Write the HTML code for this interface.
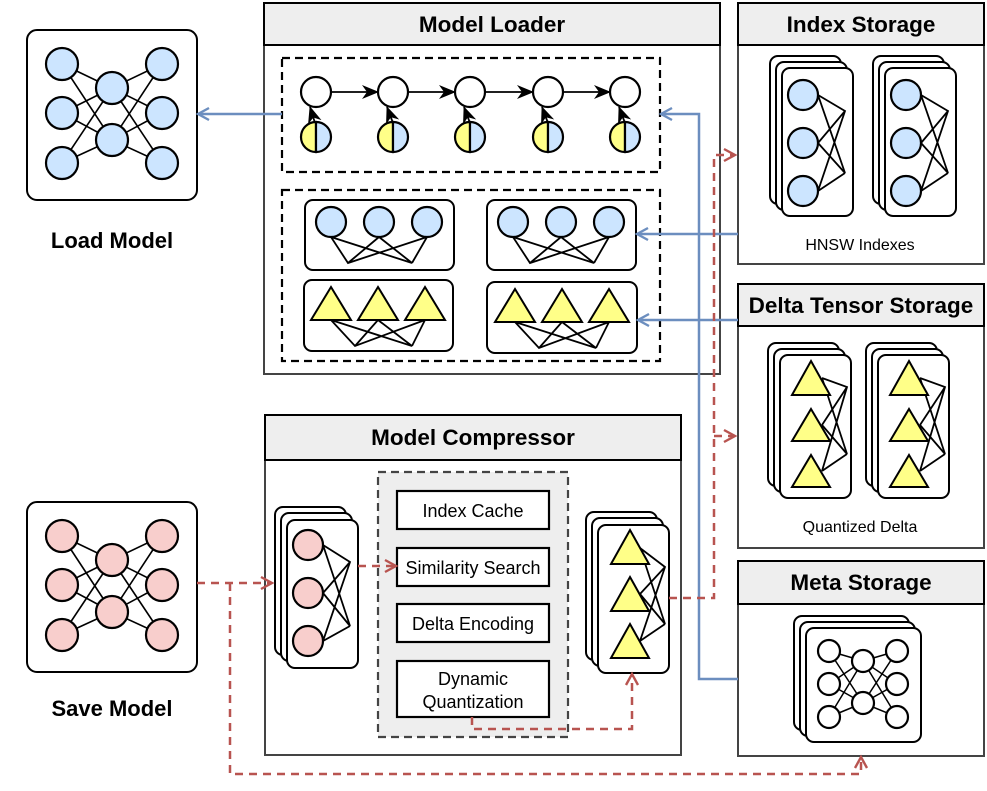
<!DOCTYPE html>
<html><head><meta charset="utf-8"><style>html,body{margin:0;padding:0;background:#fff}svg{display:block}text{font-family:"Liberation Sans",Arial,sans-serif}</style></head><body>
<svg width="987" height="791" viewBox="0 0 987 791" xmlns="http://www.w3.org/2000/svg">
<defs>
<marker id="ab" markerWidth="16" markerHeight="16" refX="13" refY="8" orient="auto" markerUnits="userSpaceOnUse"><path d="M2,2 L13,8 L2,14" fill="none" stroke="#6c8ebf" stroke-width="2.4"/></marker>
<marker id="ar" markerWidth="16" markerHeight="16" refX="13" refY="8" orient="auto" markerUnits="userSpaceOnUse"><path d="M2,2 L13,8 L2,14" fill="none" stroke="#b85450" stroke-width="2.4"/></marker>
<marker id="ak" markerWidth="18" markerHeight="16" refX="16" refY="8" orient="auto" markerUnits="userSpaceOnUse"><path d="M0,1 L17,8 L0,15 L5,8 Z" fill="#000"/></marker>
</defs>
<g stroke="#000" stroke-width="2">
<!-- Load model -->
<rect x="27" y="30" width="170" height="170" rx="10" fill="#fff" stroke-width="2"/>
<g stroke-width="1.6">
<path d="M62 64L112 88M62 64L112 140M62 113L112 88M62 113L112 140M62 163L112 88M62 163L112 140M162 64L112 88M162 64L112 140M162 113L112 88M162 113L112 140M162 163L112 88M162 163L112 140"/>
</g>
<g fill="#cce5ff" stroke-width="2.2">
<circle cx="62" cy="64" r="16"/><circle cx="62" cy="113" r="16"/><circle cx="62" cy="163" r="16"/>
<circle cx="112" cy="88" r="16"/><circle cx="112" cy="140" r="16"/>
<circle cx="162" cy="64" r="16"/><circle cx="162" cy="113" r="16"/><circle cx="162" cy="163" r="16"/>
</g>
<!-- Save model -->
<rect x="27" y="502" width="170" height="170" rx="10" fill="#fff" stroke-width="2"/>
<g stroke-width="1.6">
<path d="M62 536L112 560M62 536L112 612M62 585L112 560M62 585L112 612M62 635L112 560M62 635L112 612M162 536L112 560M162 536L112 612M162 585L112 560M162 585L112 612M162 635L112 560M162 635L112 612"/>
</g>
<g fill="#f8cecc" stroke-width="2.2">
<circle cx="62" cy="536" r="16"/><circle cx="62" cy="585" r="16"/><circle cx="62" cy="635" r="16"/>
<circle cx="112" cy="560" r="16"/><circle cx="112" cy="612" r="16"/>
<circle cx="162" cy="536" r="16"/><circle cx="162" cy="585" r="16"/><circle cx="162" cy="635" r="16"/>
</g>
</g>
<text x="112" y="248" font-size="22" font-weight="bold" text-anchor="middle">Load Model</text>
<text x="112" y="716" font-size="22" font-weight="bold" text-anchor="middle">Save Model</text>

<!-- Model Loader -->
<g stroke="#000">
<rect x="264" y="3" width="456" height="371" fill="#fff" stroke="#444" stroke-width="2"/>
<rect x="264" y="3" width="456" height="42" fill="#eeeeee" stroke-width="2"/>
<rect x="282" y="58" width="378" height="114" fill="none" stroke-width="2.2" stroke-dasharray="8,5"/>
<rect x="282" y="190" width="378" height="171" fill="none" stroke-width="2.2" stroke-dasharray="8,5"/>
<g stroke-width="1.8">
<line x1="331" y1="92" x2="378" y2="92" marker-end="url(#ak)"/>
<line x1="408" y1="92" x2="455" y2="92" marker-end="url(#ak)"/>
<line x1="485" y1="92" x2="533" y2="92" marker-end="url(#ak)"/>
<line x1="563" y1="92" x2="610" y2="92" marker-end="url(#ak)"/>
<line x1="315" y1="123" x2="310" y2="107" marker-end="url(#ak)"/>
<line x1="393" y1="123" x2="387" y2="107" marker-end="url(#ak)"/>
<line x1="470" y1="123" x2="464" y2="107" marker-end="url(#ak)"/>
<line x1="548" y1="123" x2="542" y2="107" marker-end="url(#ak)"/>
<line x1="625" y1="123" x2="619" y2="107" marker-end="url(#ak)"/>
</g>
<g fill="#fff" stroke-width="2.2">
<circle cx="316" cy="92" r="15"/><circle cx="393" cy="92" r="15"/><circle cx="470" cy="92" r="15"/><circle cx="548" cy="92" r="15"/><circle cx="625" cy="92" r="15"/>
</g>
<g stroke-width="2.2">
<path d="M316 122 A15 15 0 0 0 316 152 Z" fill="#ffff88"/><path d="M316 122 A15 15 0 0 1 316 152 Z" fill="#cce5ff"/>
<path d="M393 122 A15 15 0 0 0 393 152 Z" fill="#ffff88"/><path d="M393 122 A15 15 0 0 1 393 152 Z" fill="#cce5ff"/>
<path d="M470 122 A15 15 0 0 0 470 152 Z" fill="#ffff88"/><path d="M470 122 A15 15 0 0 1 470 152 Z" fill="#cce5ff"/>
<path d="M548 122 A15 15 0 0 0 548 152 Z" fill="#ffff88"/><path d="M548 122 A15 15 0 0 1 548 152 Z" fill="#cce5ff"/>
<path d="M625 122 A15 15 0 0 0 625 152 Z" fill="#ffff88"/><path d="M625 122 A15 15 0 0 1 625 152 Z" fill="#cce5ff"/>
</g>
<g fill="#fff" stroke-width="2">
<rect x="305" y="200" width="149" height="70" rx="8"/>
<rect x="487" y="200" width="149" height="70" rx="8"/>
<rect x="304" y="280" width="149" height="71" rx="8"/>
<rect x="487" y="282" width="150" height="71" rx="8"/>
</g>
<g stroke-width="1.8" fill="none">
<path d="M331 237L348 263L427 237M379 237L348 263M331 237L412 263L379 237M427 237L412 263"/>
<path d="M513 237L530 263L609 237M561 237L530 263M513 237L594 263L561 237M609 237L594 263"/>
<path d="M331 320L355 346L425 320M378 320L355 346M331 320L412 346L378 320M425 320L412 346"/>
<path d="M515 322L539 348L609 322M562 322L539 348M515 322L596 348L562 322M609 322L596 348"/>
</g>
<g fill="#cce5ff" stroke-width="2.2">
<circle cx="331" cy="222" r="15"/><circle cx="379" cy="222" r="15"/><circle cx="427" cy="222" r="15"/>
<circle cx="513" cy="222" r="15"/><circle cx="561" cy="222" r="15"/><circle cx="609" cy="222" r="15"/>
</g>
<g fill="#ffff88" stroke-width="2">
<path d="M331 287L351 320L311 320Z"/><path d="M378 287L398 320L358 320Z"/><path d="M425 287L445 320L405 320Z"/>
<path d="M515 289L535 322L495 322Z"/><path d="M562 289L582 322L542 322Z"/><path d="M609 289L629 322L589 322Z"/>
</g>
</g>
<text x="492" y="32" font-size="22.5" font-weight="bold" text-anchor="middle">Model Loader</text>

<!-- Model Compressor -->
<g stroke="#000">
<rect x="265" y="415" width="416" height="340" fill="#fff" stroke="#444" stroke-width="2"/>
<rect x="265" y="415" width="416" height="45" fill="#eeeeee" stroke-width="2"/>
<rect x="378" y="472" width="190" height="265" fill="#eeeeee" stroke="#444" stroke-width="2.2" stroke-dasharray="8,5"/>
<g fill="#fff" stroke-width="2.2">
<rect x="397" y="491" width="152" height="38"/>
<rect x="397" y="548" width="152" height="38"/>
<rect x="397" y="604" width="152" height="38"/>
<rect x="397" y="661" width="152" height="56"/>
</g>
<g fill="#fff" stroke-width="2">
<rect x="275" y="507" width="71" height="148" rx="8"/>
<rect x="281" y="513" width="71" height="148" rx="8"/>
<rect x="287" y="520" width="71" height="148" rx="8"/>
<rect x="586" y="512" width="71" height="148" rx="8"/>
<rect x="592" y="518" width="71" height="148" rx="8"/>
<rect x="598" y="525" width="71" height="148" rx="8"/>
</g>
<path d="M323 545L350 562L323 641M323 593L350 562M323 545L350 626L323 593M323 641L350 626" fill="none" stroke-width="1.8"/>
<g fill="#f8cecc" stroke-width="2.2"><circle cx="308" cy="545" r="15"/><circle cx="308" cy="593" r="15"/><circle cx="308" cy="641" r="15"/></g>
<path d="M640 548L665 567L640 641M640 594L665 567M640 548L665 624L640 594M640 641L665 624" fill="none" stroke-width="1.8"/>
<g fill="#ffff88" stroke-width="2"><path d="M630 530L649 564L611 564Z"/><path d="M630 577L649 611L611 611Z"/><path d="M630 624L649 658L611 658Z"/></g>
</g>
<text x="473" y="445" font-size="22.5" font-weight="bold" text-anchor="middle">Model Compressor</text>
<g font-size="18" text-anchor="middle">
<text x="473" y="517">Index Cache</text>
<text x="473" y="574">Similarity Search</text>
<text x="473" y="630">Delta Encoding</text>
<text x="473" y="685">Dynamic</text>
<text x="473" y="708">Quantization</text>
</g>

<!-- Index Storage -->
<g stroke="#000">
<rect x="738" y="3" width="246" height="261" fill="#fff" stroke="#444" stroke-width="2"/>
<rect x="738" y="3" width="246" height="42" fill="#eeeeee" stroke-width="2"/>
<g fill="#fff" stroke-width="2">
<rect x="770" y="56" width="71" height="148" rx="8"/><rect x="776" y="62" width="71" height="148" rx="8"/><rect x="782" y="68" width="71" height="148" rx="8"/>
<rect x="873" y="56" width="71" height="148" rx="8"/><rect x="879" y="62" width="71" height="148" rx="8"/><rect x="885" y="68" width="71" height="148" rx="8"/>
</g>
<path d="M818 95L845 111L818 191M818 143L845 111M818 95L845 173L818 143M818 191L845 173" fill="none" stroke-width="1.8"/>
<path d="M921 95L948 111L921 191M921 143L948 111M921 95L948 173L921 143M921 191L948 173" fill="none" stroke-width="1.8"/>
<g fill="#cce5ff" stroke-width="2.2">
<circle cx="803" cy="95" r="15"/><circle cx="803" cy="143" r="15"/><circle cx="803" cy="191" r="15"/>
<circle cx="906" cy="95" r="15"/><circle cx="906" cy="143" r="15"/><circle cx="906" cy="191" r="15"/>
</g>
</g>
<text x="861" y="32" font-size="22.5" font-weight="bold" text-anchor="middle">Index Storage</text>
<text x="860" y="250" font-size="16" text-anchor="middle">HNSW Indexes</text>

<!-- Delta Tensor Storage -->
<g stroke="#000">
<rect x="738" y="284" width="246" height="264" fill="#fff" stroke="#444" stroke-width="2"/>
<rect x="738" y="284" width="246" height="42" fill="#eeeeee" stroke-width="2"/>
<g fill="#fff" stroke-width="2">
<rect x="768" y="343" width="71" height="143" rx="8"/><rect x="774" y="349" width="71" height="143" rx="8"/><rect x="780" y="355" width="71" height="143" rx="8"/>
<rect x="866" y="343" width="71" height="143" rx="8"/><rect x="872" y="349" width="71" height="143" rx="8"/><rect x="878" y="355" width="71" height="143" rx="8"/>
</g>
<path d="M822 378L847 387L822 471M822 425L847 387M822 378L847 454L822 425M822 471L847 454" fill="none" stroke-width="1.8"/>
<path d="M920 378L945 387L920 471M920 425L945 387M920 378L945 454L920 425M920 471L945 454" fill="none" stroke-width="1.8"/>
<g fill="#ffff88" stroke-width="2">
<path d="M811 361L830 395L792 395Z"/><path d="M811 409L830 441L792 441Z"/><path d="M811 455L830 487L792 487Z"/>
<path d="M909 361L928 395L890 395Z"/><path d="M909 409L928 441L890 441Z"/><path d="M909 455L928 487L890 487Z"/>
</g>
</g>
<text x="861" y="313" font-size="22.5" font-weight="bold" text-anchor="middle">Delta Tensor Storage</text>
<text x="860" y="532" font-size="16" text-anchor="middle">Quantized Delta</text>

<!-- Meta Storage -->
<g stroke="#000">
<rect x="738" y="561" width="246" height="195" fill="#fff" stroke="#444" stroke-width="2"/>
<rect x="738" y="561" width="246" height="43" fill="#eeeeee" stroke-width="2"/>
<g fill="#fff" stroke-width="2">
<rect x="794" y="616" width="115" height="114" rx="8"/><rect x="800" y="622" width="115" height="114" rx="8"/><rect x="806" y="628" width="115" height="114" rx="8"/>
</g>
<path d="M829 651L863 661M829 651L863 703M829 684L863 661M829 684L863 703M829 717L863 661M829 717L863 703M897 651L863 661M897 651L863 703M897 684L863 661M897 684L863 703M897 717L863 661M897 717L863 703" stroke-width="1.5"/>
<g fill="#fff" stroke-width="2.2">
<circle cx="829" cy="651" r="11"/><circle cx="829" cy="684" r="11"/><circle cx="829" cy="717" r="11"/>
<circle cx="863" cy="661" r="11"/><circle cx="863" cy="703" r="11"/>
<circle cx="897" cy="651" r="11"/><circle cx="897" cy="684" r="11"/><circle cx="897" cy="717" r="11"/>
</g>
</g>
<text x="861" y="590" font-size="22.5" font-weight="bold" text-anchor="middle">Meta Storage</text>

<!-- Blue connectors -->
<g stroke="#6c8ebf" stroke-width="2.5" fill="none">
<line x1="282" y1="114" x2="198" y2="114" marker-end="url(#ab)"/>
<polyline points="738,679 699,679 699,114 661,114" marker-end="url(#ab)"/>
<line x1="738" y1="234" x2="637" y2="234" marker-end="url(#ab)"/>
<line x1="738" y1="320" x2="638" y2="320" marker-end="url(#ab)"/>
</g>
<!-- Red dashed connectors -->
<g stroke="#b85450" stroke-width="2.5" fill="none" stroke-dasharray="8,6">
<polyline points="669,598 714,598 714,155 735,155" marker-end="url(#ar)"/>
<line x1="714" y1="436" x2="735" y2="436" marker-end="url(#ar)"/>
<line x1="197" y1="583" x2="272" y2="583" marker-end="url(#ar)"/>
<polyline points="230,583 230,774 861,774 861,757" marker-end="url(#ar)"/>
<line x1="358" y1="566" x2="396" y2="566" marker-end="url(#ar)"/>
<polyline points="472,717 472,729 632,729 632,674" marker-end="url(#ar)"/>
</g>
</svg>
</body></html>
